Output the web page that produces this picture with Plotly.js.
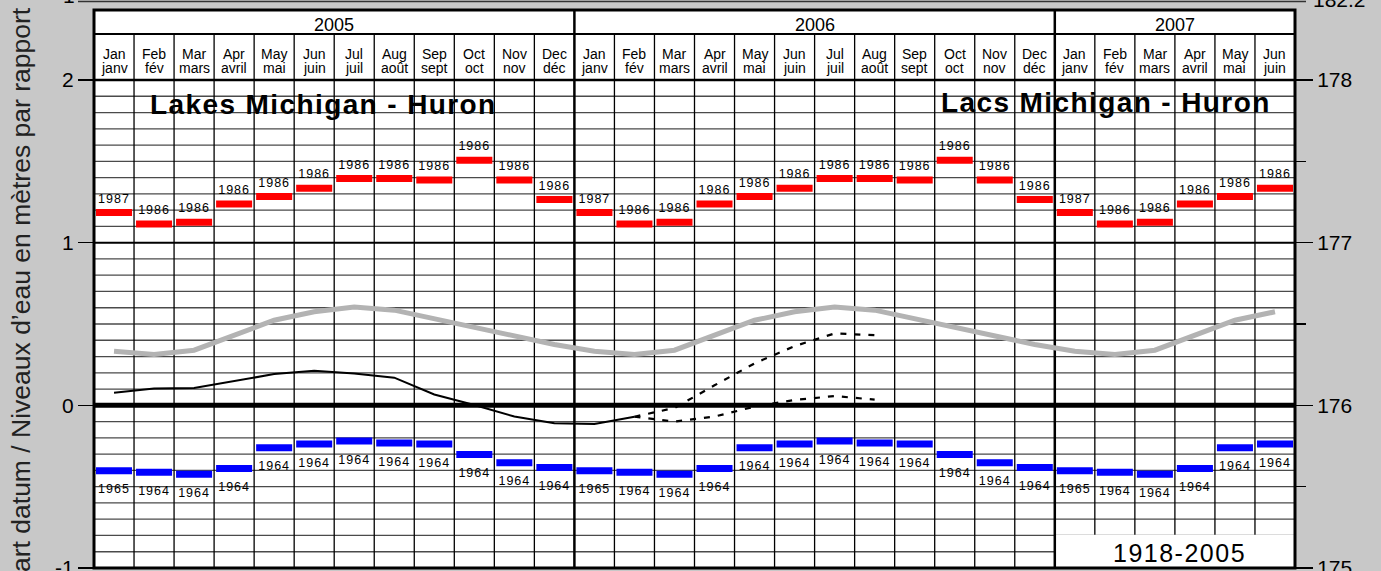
<!DOCTYPE html>
<html><head><meta charset="utf-8">
<script src="https://cdn.plot.ly/plotly-3.0.1.min.js"></script>
<style>html,body{margin:0;padding:0;background:#c8c8c8;}#chart{width:1381px;height:571px;}</style>
</head><body><div id="chart"></div>
<script>
// ---------- data ----------
const years = ['2005', '2006', '2007'];
const yearMonths = [12, 12, 6];
const monthsEn = ['Jan','Feb','Mar','Apr','May','Jun','Jul','Aug','Sep','Oct','Nov','Dec'];
const monthsFr = ['janv','fév','mars','avril','mai','juin','juil','août','sept','oct','nov','déc'];
// monthly records (m relative to chart datum), repeated for every year shown
const recordHigh = [1.186, 1.115, 1.126, 1.237, 1.284, 1.335, 1.394, 1.394, 1.385, 1.507, 1.385, 1.265];
const recordHighYear = ['1987','1986','1986','1986','1986','1986','1986','1986','1986','1986','1986','1986'];
const recordLow = [-0.402, -0.411, -0.424, -0.389, -0.260, -0.238, -0.219, -0.232, -0.238, -0.303, -0.353, -0.382];
const recordLowYear = ['1965','1964','1964','1964','1964','1964','1964','1964','1964','1964','1964','1964'];
// long-term average 1918-2005
const averageLevel = [0.333, 0.313, 0.339, 0.431, 0.523, 0.575, 0.605, 0.585, 0.534, 0.477, 0.425, 0.374];
// recorded levels Jan 2005 - Feb 2006
const recorded = [0.078, 0.104, 0.106, 0.149, 0.192, 0.213, 0.196, 0.170, 0.067, 0.002, -0.069, -0.110, -0.115, -0.070];
// forecast range Feb 2006 - Aug 2006
const forecastHigh = [-0.070, -0.016, 0.123, 0.258, 0.364, 0.442, 0.431];
const forecastLow = [-0.070, -0.100, -0.069, -0.008, 0.033, 0.057, 0.035];
const leftTicks = [-1, 0, 1, 2];
const leftTickText = ['-1', '0', '1', '2'];
const rightTicks = [175, 176, 177, 178];
const datumOffset = 176;

// ---------- build ----------
const monthCount = yearMonths.reduce((a, b) => a + b, 0);
const yMin = -1, yMax = 2;
const FONT = 'Liberation Sans, Arial, sans-serif';
const idx = Array.from({length: monthCount}, (_, i) => i);
const spaced = (t, px) => '<span style="letter-spacing:' + px + 'px">' + t + '</span>';

const hiX = [], hiY = [], loX = [], loY = [];
const hiLX = [], hiLY = [], hiLT = [], loLX = [], loLY = [], loLT = [];
idx.forEach(i => {
  const m = i % 12;
  hiX.push(i - 0.45, i + 0.45, null); hiY.push(recordHigh[m], recordHigh[m], null);
  loX.push(i - 0.45, i + 0.45, null); loY.push(recordLow[m], recordLow[m], null);
  hiLX.push(i); hiLY.push(recordHigh[m] + 0.08); hiLT.push(spaced(recordHighYear[m], 1));
  loLX.push(i); loLY.push(recordLow[m] - 0.12); loLT.push(spaced(recordLowYear[m], 1));
});

const recStart = 0;
const fcStart = recorded.length - 1;

const traces = [
  {x: idx, y: idx.map(i => averageLevel[i % 12]), mode: 'lines', line: {color: '#b3b3b3', width: 5}, yaxis: 'y'},
  {x: recorded.map((_, i) => recStart + i), y: recorded, mode: 'lines', line: {color: '#000', width: 2}},
  {x: forecastHigh.map((_, i) => fcStart + i), y: forecastHigh, mode: 'lines', line: {color: '#000', width: 2.2, dash: '6px,8px'}},
  {x: forecastLow.map((_, i) => fcStart + i), y: forecastLow, mode: 'lines', line: {color: '#000', width: 2.2, dash: '6px,8px'}},
  {x: hiX, y: hiY, mode: 'lines', line: {color: '#ff0000', width: 7}},
  {x: loX, y: loY, mode: 'lines', line: {color: '#0000ff', width: 7}},
  {x: hiLX, y: hiLY, text: hiLT, mode: 'text', textposition: 'middle center', textfont: {family: FONT, size: 12.5, color: '#000'}, cliponaxis: false},
  {x: loLX, y: loLY, text: loLT, mode: 'text', textposition: 'middle center', textfont: {family: FONT, size: 12.5, color: '#000'}, cliponaxis: false},
  {x: [0], y: [datumOffset], mode: 'markers', marker: {opacity: 0}, yaxis: 'y2'}
];
traces.forEach(t => { t.showlegend = false; t.hoverinfo = 'skip'; });

// paper helpers
const PLOT_TOP = 80, PLOT_BOTTOM = 568, PLOT_LEFT = 94, PLOT_RIGHT = 1295;
const pyPix = p => (PLOT_BOTTOM - p) / (PLOT_BOTTOM - PLOT_TOP);
const pxPix = p => (p - PLOT_LEFT) / (PLOT_RIGHT - PLOT_LEFT);
const pxB = b => b / monthCount;          // boundary before month b
const pyV = v => (v - yMin) / (yMax - yMin);
const headerTop = pyPix(10), headerMid = pyPix(34);

const shapes = [];
const line = (x0, y0, x1, y1, color, width, layer) => shapes.push({type: 'line', xref: 'paper', yref: 'paper', x0, y0, x1, y1, line: {color, width}, layer: layer || 'below'});
shapes.push({type: 'rect', xref: 'paper', yref: 'paper', x0: 0, x1: 1, y0: 1, y1: headerTop, fillcolor: '#fff', line: {width: 0}, layer: 'below'});
for (let k = -9; k <= 19; k++) {
  if (k === 0) continue;
  const v = k / 10;
  if (k % 10 === 0) line(0, pyV(v), 1, pyV(v), '#000', 2);
  else line(0, pyV(v), 1, pyV(v), '#4a4a4a', 1.3);
}
// month separators
let yb = [], acc = 0;
yearMonths.forEach(n => { acc += n; yb.push(acc); });
for (let b = 1; b < monthCount; b++) {
  if (yb.includes(b)) continue;
  line(pxB(b), 0, pxB(b), headerMid, '#000', 1.3);
}
// period box
const boxStart = monthCount - yearMonths[yearMonths.length - 1];
shapes.push({type: 'rect', xref: 'paper', yref: 'paper', x0: pxB(boxStart), x1: 1, y0: 0, y1: pyV(-0.795), fillcolor: '#fff', line: {width: 0}, layer: 'below'});
// year separators
yb.slice(0, -1).forEach(b => line(pxB(b), 0, pxB(b), headerTop, '#000', 2.5));
line(0, headerMid, 1, headerMid, '#000', 2);
line(0, 1, 1, 1, '#000', 2.5);
line(0, pyV(0), 1, pyV(0), '#000', 5);
shapes.push({type: 'rect', xref: 'paper', yref: 'paper', x0: 0, x1: 1, y0: 0, y1: headerTop, line: {color: '#000', width: 3}, layer: 'above'});
line(pxPix(78), pyPix(1.5), pxPix(1306), pyPix(1.5), '#333', 1.5, 'above');

const annotations = [];
const ann = (o) => annotations.push(Object.assign({showarrow: false, xref: 'paper', yref: 'paper', xanchor: 'center', yanchor: 'middle'}, o));
// year headers
let start = 0;
years.forEach((y, k) => {
  ann({xref: 'x', x: start + (yearMonths[k] - 1) / 2, y: pyPix(25.5), text: y, font: {family: FONT, size: 18, color: '#000'}});
  start += yearMonths[k];
});
idx.forEach(i => {
  ann({xref: 'x', x: i, y: pyPix(54), text: monthsEn[i % 12], font: {family: FONT, size: 14, color: '#000'}});
  ann({xref: 'x', x: i, y: pyPix(68.5), text: monthsFr[i % 12], font: {family: FONT, size: 14, color: '#000'}});
});
ann({x: pxPix(148), y: pyPix(104), xanchor: 'left', text: '<b>' + spaced('Lakes Michigan - Huron', 1.4) + '</b>', font: {family: FONT, size: 28, color: '#000'}});
ann({x: pxPix(1273), y: pyPix(102), xanchor: 'right', text: '<b>' + spaced('Lacs Michigan - Huron', 1.4) + '</b>', font: {family: FONT, size: 28, color: '#000'}});
ann({x: pxPix(1179), y: pyPix(553), text: spaced('1918-2005', 1.5), font: {family: FONT, size: 25, color: '#000'}});
ann({x: pxPix(21), y: pyPix(290), textangle: -90, text: 'art datum / Niveaux d’eau en mètres par rapport', font: {family: FONT, size: 26.5, color: '#222'}});
ann({x: pxPix(77), y: pyPix(-4), xanchor: 'right', text: '-1', font: {family: FONT, size: 21, color: '#000'}});
ann({x: pxPix(1311), y: pyPix(-1), xanchor: 'left', text: '182.2', font: {family: FONT, size: 21, color: '#000'}});

const layout = {
  width: 1381, height: 571,
  margin: {l: PLOT_LEFT, r: 1381 - PLOT_RIGHT, t: PLOT_TOP, b: 571 - PLOT_BOTTOM, pad: 0},
  paper_bgcolor: '#c8c8c8', plot_bgcolor: '#ffffff',
  font: {family: FONT, color: '#000'},
  showlegend: false, hovermode: false,
  xaxis: {range: [-0.5, monthCount - 0.5], showticklabels: false, ticks: '', showgrid: false, zeroline: false, showline: false, fixedrange: true},
  yaxis: {range: [yMin, yMax], tickvals: leftTicks, ticktext: leftTickText, ticks: 'outside', ticklen: 15, tickwidth: 1.3, tickcolor: '#000', ticklabeloverflow: 'allow',
          tickfont: {family: FONT, size: 21, color: '#000'}, showgrid: false, zeroline: false, showline: false, fixedrange: true},
  yaxis2: {overlaying: 'y', side: 'right', range: [yMin + datumOffset, yMax + datumOffset], tickvals: rightTicks, ticks: 'outside', ticklen: 17, tickwidth: 1.3, tickcolor: '#000', ticklabeloverflow: 'allow',
           tickfont: {family: FONT, size: 21, color: '#000'}, showgrid: false, zeroline: false, showline: false, fixedrange: true,
           minor: {tickvals: [175.5, 176.5, 177.5], ticks: 'outside', ticklen: 10, tickwidth: 1.3, tickcolor: '#000', showgrid: false}},
  shapes, annotations
};
Plotly.newPlot('chart', traces, layout, {staticPlot: true, displayModeBar: false});
</script></body></html>
